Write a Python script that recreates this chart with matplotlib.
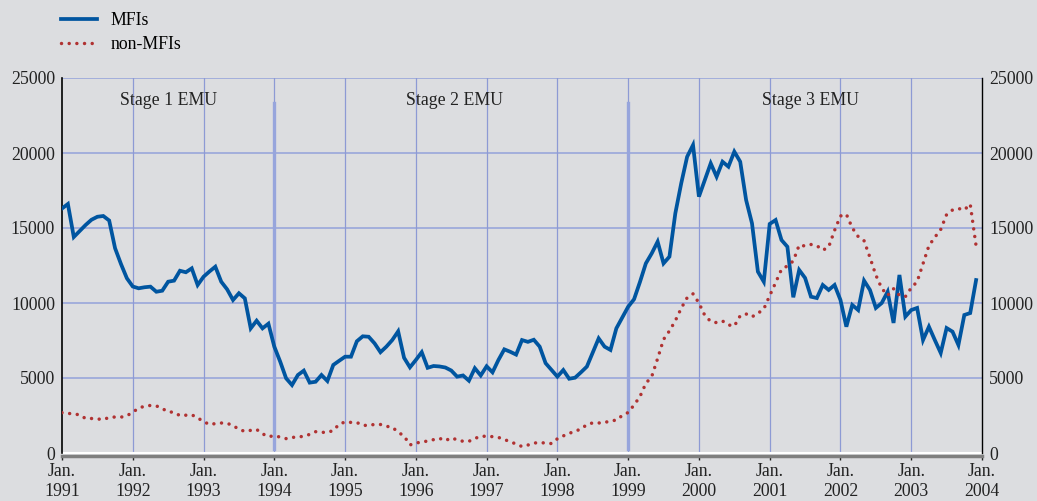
import numpy as np
import matplotlib.pyplot as plt
from matplotlib.lines import Line2D

# monthly data, Jan 1991 - Dec 2003
mfis = [
    16300, 16600, 14400, 14800, 15200, 15550, 15750, 15800, 15500, 13650, 12600, 11650,
    11100, 10980, 11050, 11090, 10750, 10820, 11420, 11490, 12150, 12050, 12310, 11200,
    11750, 12100, 12420, 11420, 10910, 10200, 10650, 10310, 8310, 8820, 8310, 8620,
    7090, 6090, 4980, 4530, 5200, 5490, 4690, 4750, 5200, 4800, 5870, 6150,
    6420, 6420, 7450, 7780, 7750, 7310, 6720, 7090, 7530, 8110, 6350, 5710,
    6200, 6720, 5680, 5800, 5770, 5700, 5500, 5090, 5170, 4820, 5650, 5170,
    5780, 5380, 6200, 6910, 6750, 6560, 7530, 7410, 7550, 7090, 5990, 5540,
    5090, 5530, 4950, 5020, 5380, 5760, 6700, 7640, 7090, 6870, 8310, 9030,
    9750, 10250, 11400, 12640, 13310, 14090, 12640, 13090, 15980, 17980, 19750, 20530,
    17090, 18200, 19310, 18420, 19420, 19090, 20090, 19420, 16870, 15310, 12090, 11420,
    15270, 15530, 14200, 13750, 10380, 12200, 11670, 10420, 10330, 11200, 10870, 11200,
    10200, 8420, 9870, 9530, 11490, 10870, 9670, 10000, 10750, 8670, 11870, 9090,
    9530, 9670, 7530, 8420, 7530, 6670, 8330, 8090, 7200, 9200, 9330, 11530,
]
non_mfis = [
    2690, 2640, 2610, 2540, 2300, 2300, 2270, 2230, 2370, 2400, 2390, 2480,
    2720, 2990, 3120, 3170, 3140, 2960, 2750, 2710, 2490, 2520, 2550, 2340,
    2100, 1900, 1960, 2000, 1980, 1830, 1580, 1440, 1510, 1570, 1280, 1090,
    1150, 1060, 960, 1040, 1060, 1120, 1240, 1420, 1380, 1370, 1500, 1920,
    2070, 2040, 2030, 1850, 1830, 1910, 1900, 1780, 1720, 1390, 1130, 540,
    650, 750, 790, 890, 980, 820, 1010, 880, 780, 780, 970, 1110,
    1120, 1090, 1040, 900, 750, 600, 430, 530, 660, 700, 660, 630,
    950, 1140, 1310, 1450, 1600, 1890, 2010, 2000, 2030, 2140, 2190, 2500,
    2700, 3200, 3760, 4640, 5100, 6300, 7570, 8140, 8820, 9650, 10350, 10610,
    10000, 9170, 8770, 8690, 8800, 8540, 8460, 9150, 9270, 9080, 9310, 9600,
    10490, 11350, 12240, 12470, 12800, 13860, 13800, 13900, 13820, 13520, 13730, 14840,
    15800, 15920, 15010, 14430, 14150, 13040, 11860, 10980, 10500, 10950, 10510, 10420,
    11010, 11420, 12620, 13820, 14380, 14900, 15900, 16200, 16300, 16200, 16600, 13800,
]
years = list(range(1991, 2005))
year_labels = ["Jan.\n%d" % y for y in years]
stage_names = ["Stage 1 EMU", "Stage 2 EMU", "Stage 3 EMU"]
stage_x = [1992.5, 1996.55, 2001.58]
stage_breaks = [1994, 1999]

months = 1991 + np.arange(len(mfis)) / 12

bg = "#dcdde0"
plt.rcParams['font.family'] = ['Liberation Serif', 'DejaVu Serif']
fs = 12.8
dots = (0, (0.01, 2.2))

fig = plt.figure(figsize=(10.37, 5.01), dpi=100, facecolor=bg)
ax = fig.add_axes([62/1037, 48/501, 920/1037, 375/501])
ax.set_facecolor(bg)

# grid
for y in range(5000, 25001, 5000):
    ax.axhline(y, color="#a3aedb", lw=1.4, zorder=1)
for x in years[1:-1]:
    ax.axvline(x, color="#8d9ad4", lw=0.9, zorder=1)
for x in stage_breaks:
    ax.axvline(x, ymin=0.012, ymax=0.933, color="#97a5dc", lw=2.4, zorder=1)

ax.plot(months, mfis, color="#0055a0", lw=2.7, zorder=3,
        solid_joinstyle="miter", label="MFIs")
ax.plot(months, non_mfis, color="#b03232", lw=2.5, zorder=3,
        linestyle=dots, dash_capstyle="round", label="non-MFIs")

for name, x in zip(stage_names, stage_x):
    ax.text(x, 23470, name, ha="center", va="center", fontsize=fs, color="#222222")

ax.set_xlim(1991, 2004)
ax.set_ylim(0, 25000)
ax.set_xticks(years)
ax.set_xticklabels(year_labels, linespacing=0.92)
ax.set_yticks(range(0, 25001, 5000))
ax.tick_params(axis="x", length=3, width=1, pad=2.5, labelsize=fs, colors="#222222")
ax.tick_params(axis="y", length=0, pad=5, labelsize=fs, colors="#222222",
               right=True, labelright=True)

ax.spines["top"].set_visible(False)
ax.spines["left"].set_color("black")
ax.spines["left"].set_linewidth(1.2)
ax.spines["right"].set_color("black")
ax.spines["right"].set_linewidth(1.0)
ax.spines["bottom"].set_color("#7f7f7f")
ax.spines["bottom"].set_linewidth(2.5)
ax.spines["bottom"].set_position(("outward", 2))
ax.axhline(0, color="white", lw=1.5, zorder=2, clip_on=False)

handles = [
    Line2D([], [], color="#0055a0", lw=2.7),
    Line2D([], [], color="#b03232", lw=2.5, linestyle=dots, dash_capstyle="round"),
]
fig.legend(handles, ["MFIs", "non-MFIs"], loc="upper left",
           bbox_to_anchor=(61/1037, 1 - 12/501), frameon=False, fontsize=fs,
           handlelength=2.0, handletextpad=0.8, labelspacing=0.38,
           borderpad=0, borderaxespad=0)

fig.savefig("out.png", dpi=100, facecolor=bg)
